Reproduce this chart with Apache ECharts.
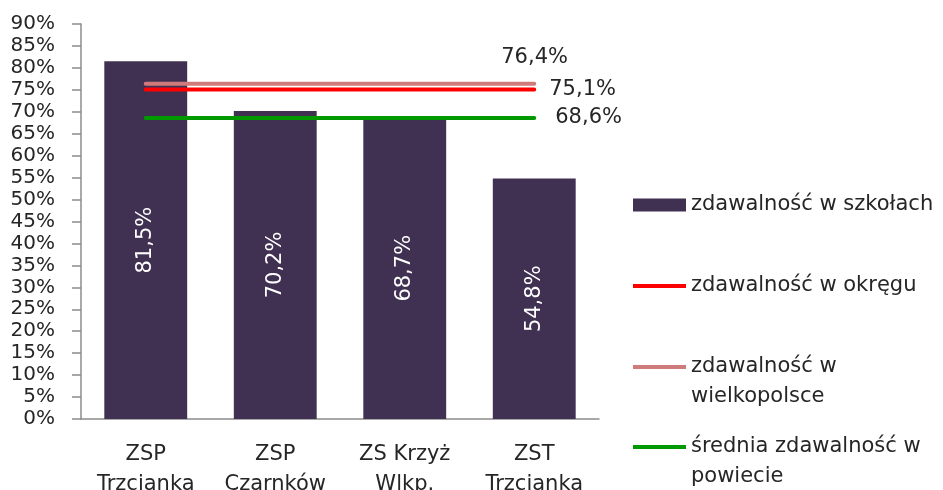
<!DOCTYPE html>
<html>
<head>
<meta charset="utf-8">
<script src="https://cdn.jsdelivr.net/npm/echarts@6/dist/echarts.min.js"></script>
<style>
  html, body { margin: 0; padding: 0; background: #fff; }
  #chart { width: 943px; height: 490px; }
</style>
</head>
<body>
<div id="chart"></div>
<script>
const schools = ['ZSP\nTrzcianka', 'ZSP\nCzarnków', 'ZS Krzyż\nWlkp.', 'ZST\nTrzcianka']
const passRate = [81.5, 70.2, 68.7, 54.8]
const districtRate = [75.1, 75.1, 75.1, 75.1]
const regionRate = [76.4, 76.4, 76.4, 76.4]
const countyRate = [68.6, 68.6, 68.6, 68.6]

const FONT = 'DejaVu Sans'
const pct = (v) => v.toFixed(1).replace('.', ',') + '%'

// seria linii poziomej z etykietą na końcu
const flatLine = (name, data, color, offset) => ({
  name,
  type: 'line',
  data,
  symbol: 'none',
  lineStyle: { color, width: 4, cap: 'round' },
  itemStyle: { color },
  endLabel: {
    show: true,
    distance: 0,
    offset,
    formatter: (p) => pct(p.value),
    color: '#262626',
    fontFamily: FONT,
    fontSize: 21
  }
})

const legendText = { color: '#262626', fontFamily: FONT, fontSize: 21, lineHeight: 30 }

// dwuwierszowe: pusty wiersz na górze, żeby ikona stała przy pierwszym wierszu
const legendBox = (name, top, itemHeight, twoLine) => ({
  data: [{ name, icon: 'rect' }],
  orient: 'vertical',
  left: 633,
  top,
  padding: 0,
  itemWidth: 53,
  itemHeight,
  itemGap: 0,
  selectedMode: false,
  formatter: twoLine ? (n) => '\n' + n : '{name}',
  textStyle: legendText
})

const option = {
  animation: false,
  grid: { left: 81, right: 344, top: 24, bottom: 71, outerBoundsMode: 'none', containLabel: false },
  legend: [
    legendBox('zdawalność w szkołach', 190, 13, false),
    legendBox('zdawalność w okręgu', 271, 4, false),
    legendBox('zdawalność w\nwielkopolsce', 322, 4, true),
    legendBox('średnia zdawalność w\npowiecie', 402, 4, true)
  ],
  xAxis: {
    type: 'category',
    data: schools,
    axisLine: { lineStyle: { color: '#8c8c8c', width: 1.5 } },
    axisTick: { length: 8, lineStyle: { color: '#8c8c8c', width: 1.5 } },
    axisLabel: {
      interval: 0,
      color: '#262626',
      fontFamily: FONT,
      fontSize: 21,
      lineHeight: 30,
      margin: 21
    }
  },
  yAxis: {
    type: 'value',
    min: 0,
    max: 90,
    interval: 5,
    axisLine: { show: true, lineStyle: { color: '#8c8c8c', width: 1.5 } },
    axisTick: { show: true, length: 9, lineStyle: { color: '#8c8c8c', width: 1.5 } },
    splitLine: { show: false },
    axisLabel: {
      formatter: '{value}%',
      color: '#262626',
      fontFamily: FONT,
      fontSize: 20,
      margin: 26
    }
  },
  series: [
    {
      name: 'zdawalność w szkołach',
      type: 'bar',
      data: passRate,
      barWidth: '64%',
      itemStyle: { color: '#403152' },
      label: {
        show: true,
        position: 'inside',
        rotate: 90,
        formatter: (p) => pct(p.value),
        color: '#fff',
        fontFamily: FONT,
        fontSize: 21
      }
    },
    flatLine('zdawalność w okręgu', districtRate, '#ff0000', [15, 0]),
    flatLine('zdawalność w\nwielkopolsce', regionRate, '#cf7b7b', [-33, -26]),
    flatLine('średnia zdawalność w\npowiecie', countyRate, '#009a00', [21, 0])
  ]
}

const myChart = echarts.init(document.getElementById('chart'))
option && myChart.setOption(option)
</script>
</body>
</html>
